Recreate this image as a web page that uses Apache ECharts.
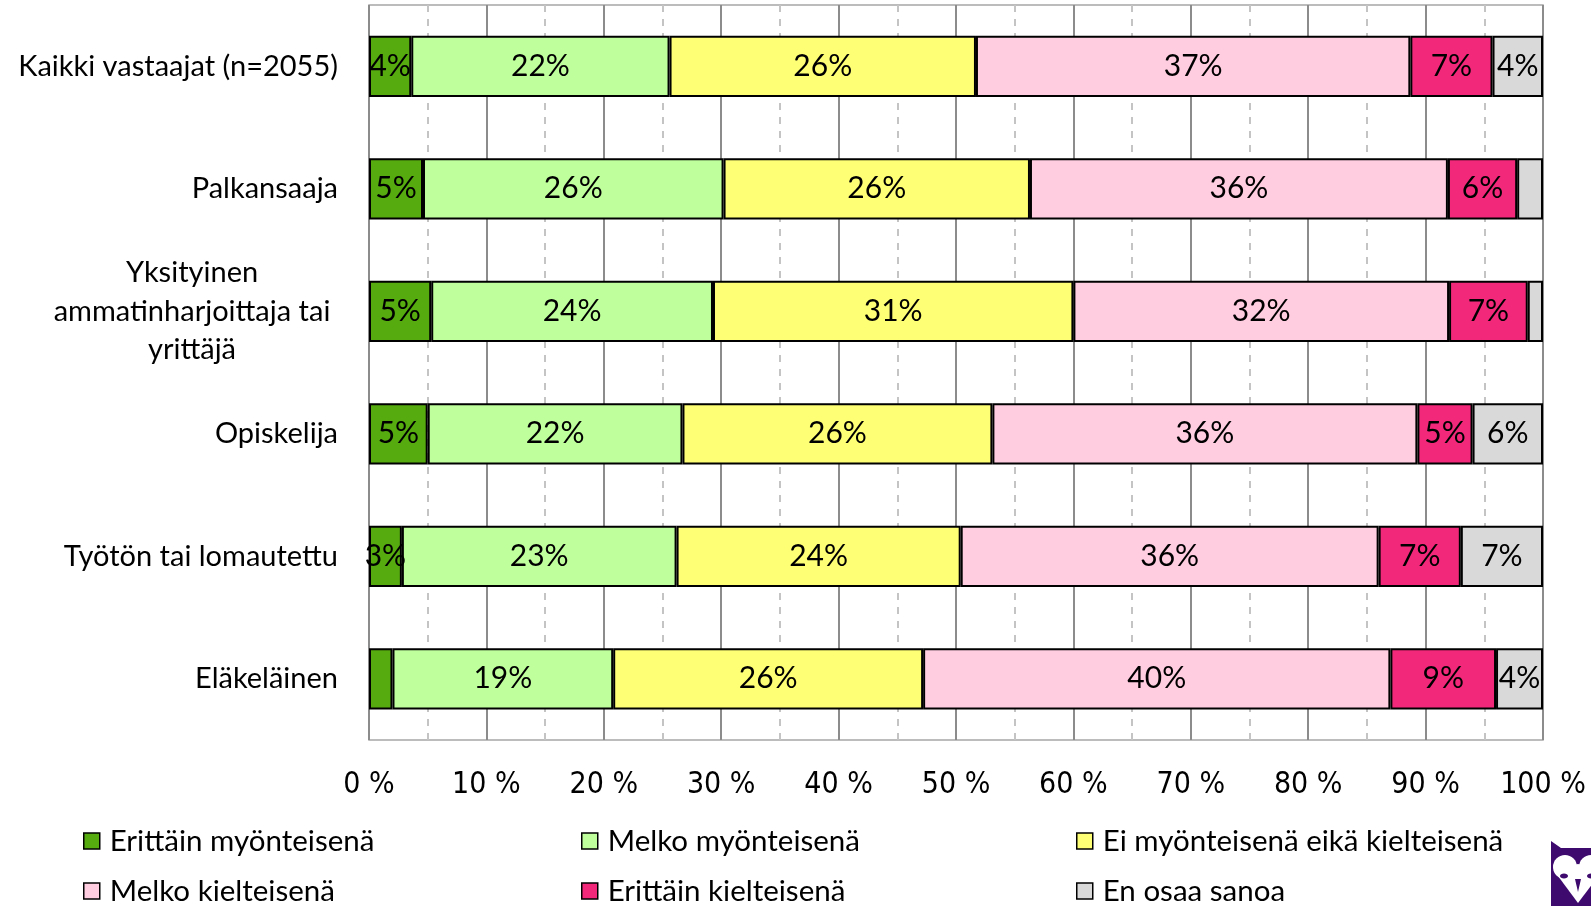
<!DOCTYPE html>
<html>
<head>
<meta charset="utf-8">
<script src="https://cdn.jsdelivr.net/npm/echarts@6/dist/echarts.min.js"></script>
<style>html,body{margin:0;padding:0;background:#fff}#c{width:1591px;height:906px}</style>
</head>
<body>
<div id="c"></div>
<script>
const categories = ['Kaikki vastaajat (n=2055)', 'Palkansaaja', 'Yksityinen\nammatinharjoittaja tai\nyrittäjä', 'Opiskelija', 'Työtön tai lomautettu', 'Eläkeläinen'];
const seriesNames = ['Erittäin myönteisenä', 'Melko myönteisenä', 'Ei myönteisenä eikä kielteisenä', 'Melko kielteisenä', 'Erittäin kielteisenä', 'En osaa sanoa'];
const erittainMyonteisena = [3.6, 4.6, 5.3, 5.0, 2.8, 2.0];
const melkoMyonteisena   = [22.0, 25.6, 24.0, 21.7, 23.4, 18.8];
const eiKumpikaan        = [26.1, 26.1, 30.7, 26.4, 24.2, 26.4];
const melkoKielteisena   = [37.0, 35.6, 32.0, 36.2, 35.6, 39.8];
const erittainKielteisena= [7.0, 5.9, 6.7, 4.7, 7.0, 9.0];
const enOsaaSanoa        = [4.3, 2.2, 1.3, 6.0, 7.0, 4.0];
const xTicks = [0, 10, 20, 30, 40, 50, 60, 70, 80, 90, 100];

const values = [erittainMyonteisena, melkoMyonteisena, eiKumpikaan, melkoKielteisena, erittainKielteisena, enOsaaSanoa];
const colors = ['#56AB0F', '#BFFF9C', '#FFFF75', '#FFCCE0', '#F2297A', '#D9D9D9'];
const FONT = 'Lato, "Open Sans", sans-serif';

const chart = echarts.init(document.getElementById('c'), null, {renderer: 'canvas'});

const series = seriesNames.map((name, i) => ({
  name: name,
  type: 'bar',
  stack: 'total',
  barWidth: '50%',
  data: values[i],
  itemStyle: {color: colors[i], borderColor: '#000', borderWidth: 2},
  label: {
    show: true,
    position: 'inside',
    color: '#000',
    fontFamily: FONT,
    fontSize: 30,
    formatter: p => (p.value >= 2.5 ? Math.round(p.value) + '%' : '')
  },
  emphasis: {disabled: true}
}));

const legendPos = [
  {name: seriesNames[0], left: 83, top: 841},
  {name: seriesNames[1], left: 581, top: 841},
  {name: seriesNames[2], left: 1076, top: 841},
  {name: seriesNames[3], left: 83, top: 891},
  {name: seriesNames[4], left: 581, top: 891},
  {name: seriesNames[5], left: 1076, top: 891}
];
const legends = legendPos.map(l => ({
  data: [l.name],
  left: l.left,
  top: l.top - 15,
  padding: 0,
  itemWidth: 16,
  itemHeight: 16,
  itemGap: 0,
  icon: 'rect',
  selectedMode: false,
  textStyle: {fontFamily: FONT, fontSize: 29.5, color: '#000', padding: [0, 0, 0, 5]},
  itemStyle: {borderColor: '#000', borderWidth: 1.5}
}));

const PURPLE = '#3E0A6E';

chart.setOption({
  backgroundColor: '#fff',
  animation: false,
  legend: legends,
  grid: {left: 369, right: 48, top: 5, bottom: 166, show: true, borderColor: '#a6a6a6', borderWidth: 1.5, containLabel: false},
  xAxis: {
    type: 'value',
    min: 0,
    max: 100,
    interval: 10,
    axisLine: {show: false},
    axisTick: {show: false},
    axisLabel: {
      margin: 30,
      fontFamily: '"Liberation Sans Narrow", "DejaVu Sans Condensed", sans-serif',
      fontSize: 30,
      color: '#000',
      formatter: v => (xTicks.indexOf(v) >= 0 ? v + ' %' : '')
    },
    splitLine: {show: true, lineStyle: {color: '#8c8c8c', width: 2}},
    minorTick: {show: false, splitNumber: 2},
    minorSplitLine: {show: true, lineStyle: {color: '#c4c4c4', width: 2, type: [7, 7]}}
  },
  yAxis: {
    type: 'category',
    inverse: true,
    data: categories,
    axisLine: {show: false},
    axisTick: {show: false},
    axisLabel: {
      margin: 31,
      color: '#000',
      fontFamily: FONT,
      fontSize: 29,
      lineHeight: 38.5,
      formatter: v => {
        if (v.indexOf('\n') >= 0) {
          return v.split('\n').map(s => '{c|' + s + '}').join('\n');
        }
        return v;
      },
      rich: {c: {width: 292, align: 'center', fontFamily: FONT, fontSize: 29, lineHeight: 38.5, color: '#000'}}
    }
  },
  series: series,
  graphic: [
    {type: 'polygon', silent: true, shape: {points: [[1551, 841], [1561, 848], [1591, 848], [1591, 906], [1551, 906]]}, style: {fill: PURPLE}},
    {type: 'circle', silent: true, shape: {cx: 1565, cy: 867, r: 12}, style: {fill: '#fff'}},
    {type: 'circle', silent: true, shape: {cx: 1591, cy: 867, r: 12}, style: {fill: '#fff'}},
    {type: 'polygon', silent: true, shape: {points: [[1553.5, 870], [1578, 903], [1603, 870], [1578, 864]]}, style: {fill: '#fff'}},
    {type: 'ellipse', silent: true, shape: {cx: 1564, cy: 876, rx: 4, ry: 2.5}, style: {fill: PURPLE}},
    {type: 'ellipse', silent: true, shape: {cx: 1591, cy: 876, rx: 4, ry: 2.5}, style: {fill: PURPLE}},
    {type: 'polygon', silent: true, shape: {points: [[1575, 879], [1581, 879], [1578, 892]]}, style: {fill: PURPLE}}
  ]
});
</script>
</body>
</html>
